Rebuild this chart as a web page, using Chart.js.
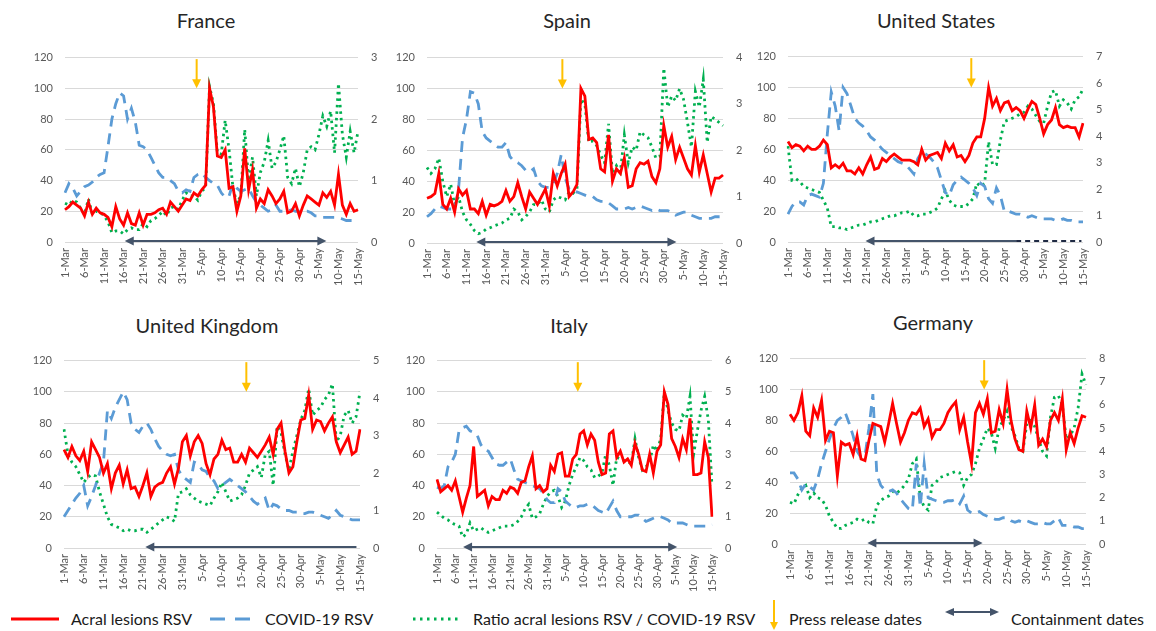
<!DOCTYPE html>
<html>
<head>
<meta charset="utf-8">
<script src="https://cdn.jsdelivr.net/npm/chart.js@4.4.1/dist/chart.umd.min.js"></script>
<style>
  body { margin: 0; background: #fff; width: 1156px; height: 631px; position: relative; overflow: hidden;
         font-family: Lato, "Liberation Sans", sans-serif; }
  canvas { position: absolute; }
  .title { position: absolute; font-size: 20px; font-weight: 400; line-height: 24px; color: #262626; white-space: nowrap;
           transform: translate(-50%, -50%); }
  .leg { position: absolute; top: 609px; font-size: 16px; line-height: 20px; color: #1a1a1a; white-space: nowrap; }
  #legsvg { position: absolute; left: 0; top: 595px; }
</style>
</head>
<body>
<svg id="legsvg" width="1156" height="36">
  <line x1="11" y1="24" x2="59" y2="24" stroke="#ff0000" stroke-width="3"/>
  <line x1="210" y1="24" x2="250" y2="24" stroke="#5b9bd5" stroke-width="3" stroke-dasharray="15,10"/>
  <line x1="413" y1="24" x2="459" y2="24" stroke="#00b050" stroke-width="3" stroke-dasharray="2.5,4.5"/>
  <line x1="774" y1="5" x2="774" y2="28" stroke="#ffc000" stroke-width="2"/>
  <polygon points="770,27 778,27 774,35" fill="#ffc000"/>
  <line x1="952" y1="17" x2="992" y2="17" stroke="#44546a" stroke-width="2"/>
  <polygon points="945,17 954,13 954,21" fill="#44546a"/>
  <polygon points="999,17 990,13 990,21" fill="#44546a"/>
</svg>
<span class="leg" style="left:71px">Acral lesions RSV</span>
<span class="leg" style="left:265px">COVID-19 RSV</span>
<span class="leg" style="left:473px">Ratio acral lesions RSV / COVID-19 RSV</span>
<span class="leg" style="left:789px">Press release dates</span>
<span class="leg" style="left:1011px">Containment dates</span>

<script>
// categories: 1-Mar .. 15-May
const months = [['Mar', 31], ['Apr', 30], ['May', 15]];
const days = [];
months.forEach(([m, n]) => { for (let d = 1; d <= n; d++) days.push(d + '-' + m); });

const leftTicks = [0, 20, 40, 60, 80, 100, 120];

// France
const franceAcral = [21,23,26,24,22,17,26,18,22,19, 18,16,10,23,15,11,19,12,11,19,
  11,18,18,19,21,22,18,26,23,20, 24,28,27,32,30,34,37,100,88,56, 55,60,35,36,20,30,61,34,47,22,
  28,25,34,30,25,28,33,19,20,25, 17,24,30,28,26,24,32,29,33,24, 44,24,18,25,20,21];
const franceCovid = [32,38,35,30,33,36,37,39,42,44, 45,62,80,90,97,95,80,87,78,63,
  62,60,55,50,45,42,42,40,38,33, 32,34,33,42,44,45,42,40,38,37, 32,29,30,38,35,33,34,35,30,26,
  24,22,20,21,24,20,20,20,21,20, 20,20,20,19,17,17,16,16,16,16, 16,15,14,14,14,14];
const franceRatio = [0.63,0.6,0.68,0.65,0.55,0.45,0.7,0.45,0.5,0.48,
  0.43,0.33,0.15,0.18,0.18,0.13,0.2,0.23,0.2,0.2, 0.3,0.25,0.35,0.38,0.43,0.5,0.43,0.55,0.58,0.53,
  0.68,0.8,0.75,0.75,0.68,0.83,0.88,2.53,2.25,1.45, 1.43,1.98,1.5,0.88,0.63,0.75,1.83,1.0,1.38,0.75,
  1.13,1.3,1.65,1.2,1.3,1.5,1.73,1.05,0.95,1.2, 0.9,1.13,1.5,1.55,1.5,1.75,2.05,1.88,2.13,1.45,
  2.58,1.75,1.38,1.8,1.45,1.8];

// Spain
const spainAcral = [29,30,32,45,25,22,29,20,35,31, 34,22,22,19,27,18,25,24,25,27,
  34,27,30,39,30,22,33,29,25,30, 35,24,45,37,45,51,30,33,38,
  100,95,67,68,65,48,46,70,40,48,45,55,36,37,48,52,51,53,43,39,48,
  76,62,69,54,62,55,48,44,63,46,57,45,33,42,42,44];
const spainCovid = [17,19,22,24,23,22,22,22,35,68, 80,98,97,90,72,68,66,64,62,62,
  65,56,53,52,50,47,46,48,40,37, 36,36,38,45,57,42,35,33,33,32, 31,30,30,28,27,27,26,24,22,22,
  22,23,22,23,24,23,22,21,22,21, 21,21,20,18,19,20,20,18,17,16, 16,16,16,17,17,17];
const spainRatio = [1.63,1.5,1.6,1.83,1.33,1.0,1.27,0.83,1.0,0.67,
  0.5,0.4,0.27,0.2,0.23,0.3,0.33,0.37,0.4,0.43, 0.5,0.53,0.73,0.67,0.5,0.57,0.67,0.83,0.83,0.93,
  0.73,0.67,0.93,1.0,0.97,0.93,1.1,1.07,1.17,
  3.1,3.0,2.17,2.2,2.1,1.9,1.73,2.57,1.5,1.67,1.53,2.33,1.73,2.07,2.0,2.4,2.33,2.27,2.07,1.83,1.87,
  3.77,2.93,3.17,3.07,3.33,3.1,2.6,2.07,3.27,2.93,3.53,2.17,2.73,2.67,2.6,2.53];

// United States
const usAcral = [65,61,63,62,59,62,60,60,62,66, 63,48,50,48,51,46,46,44,48,44,
  50,55,47,48,54,52,55,57,55,53, 53,53,52,50,60,53,56,57,58,54, 64,59,63,55,56,52,56,64,68,68,
  80,100,88,93,85,90,91,85,87,85, 80,86,91,89,80,70,76,79,87,76, 74,75,74,74,68,77];
const usCovid = [18,23,26,26,24,30,31,30,29,38, 70,97,88,72,100,96,88,80,77,75,
  72,68,66,63,60,58,56,54,52,51, 50,47,44,54,58,57,55,52,48,40, 32,30,37,40,42,40,38,35,30,38,
  36,28,25,35,30,20,20,19,18,18, 17,16,17,16,15,15,15,15,14,14, 15,14,14,13,13,13];
const usRatio = [3.62,2.33,2.39,2.28,2.1,2.04,1.98,1.93,1.87,1.58,
  1.28,0.58,0.58,0.53,0.53,0.47,0.53,0.58,0.64,0.64, 0.7,0.76,0.76,0.82,0.88,0.93,0.99,0.99,1.05,1.11,
  1.11,1.17,0.99,0.99,1.05,1.05,1.11,1.17,1.28,1.63, 1.93,1.58,1.4,1.34,1.34,1.34,1.46,1.63,2.22,2.1,
  2.22,3.79,2.92,2.92,3.85,4.55,4.61,4.67,4.73,4.84, 4.9,5.13,5.02,4.78,4.55,4.49,5.13,5.66,5.72,5.13,
  5.37,5.25,5.02,5.37,5.48,5.78];

// United Kingdom
const ukAcral = [63,58,65,59,56,62,49,68,63,58, 48,54,38,48,53,41,50,38,39,33,
  40,48,33,39,41,42,48,52,41,51, 68,72,59,68,72,67,54,47,57,60, 69,63,64,55,55,60,55,64,61,58,
  62,66,71,60,76,80,62,48,52,68, 82,83,98,76,82,81,75,80,84,68, 61,66,71,60,62,76];
const ukCovid = [20,24,28,32,35,40,27,33,40,48, 55,88,83,90,95,100,95,80,76,74,
  78,80,76,70,65,62,60,59,60,50, 46,44,42,55,54,50,49,45,43,38, 40,42,44,42,40,38,36,33,30,28,
  30,32,24,28,27,25,24,24,23,23, 22,22,23,23,22,21,20,19,21,24, 21,20,19,18,18,18];
const ukRatio = [3.17,2.5,2.29,2.17,1.96,1.75,1.88,1.96,1.92,1.5,
  1.17,0.83,0.63,0.58,0.54,0.46,0.5,0.46,0.46,0.5, 0.5,0.42,0.5,0.58,0.67,0.75,0.83,0.79,0.71,1.46,
  1.5,1.58,1.42,1.33,1.25,1.21,1.17,1.13,1.33,1.5, 1.75,1.5,1.25,1.29,1.33,1.42,1.67,2.0,2.08,2.17,
  1.88,2.5,2.58,1.67,3.25,3.08,2.5,2.08,2.58,3.0, 3.42,3.67,4.25,3.54,3.67,3.75,3.96,4.08,4.38,2.83,
  3.0,3.54,3.67,3.33,3.5,4.17];

// Italy
const italyAcral = [44,36,38,40,37,43,33,23,32,40, 65,33,35,37,27,33,31,31,37,35,
  39,38,35,42,43,52,59,38,40,36, 38,53,49,60,61,46,46,57,60,73, 75,66,73,69,55,47,48,73,75,58,
  62,55,57,53,67,60,50,49,60,48, 62,66,100,92,70,65,58,70,63,83, 47,47,48,68,58,20];
const italyCovid = [39,38,40,52,55,60,75,77,78,75, 74,72,66,63,62,58,54,53,53,55,
  57,50,44,43,42,41,40,39,38,35, 31,29,29,38,36,30,28,26,26,27, 27,28,28,26,24,23,22,26,30,24,
  20,20,20,20,21,21,19,17,18,19, 20,20,19,18,16,16,16,16,15,14, 14,14,14,14,14,15];
const italyRatio = [1.15,1.05,0.95,0.9,0.8,0.75,0.7,0.35,0.45,0.8,
  0.55,0.6,0.65,0.55,0.5,0.55,0.6,0.65,0.7,0.7, 0.7,0.75,0.85,1.0,1.25,1.4,0.95,1.0,1.1,1.4,
  1.65,1.8,1.85,1.65,1.3,1.5,2.0,2.35,2.6,2.9, 2.8,2.6,2.5,2.25,2.3,2.4,3.0,2.65,2.0,2.9,
  2.85,2.8,2.75,2.7,3.5,2.9,2.5,2.6,2.75,3.3, 3.1,3.5,5.0,4.4,4.0,3.8,3.75,4.25,4.15,4.85,
  3.0,3.75,4.4,4.85,4.1,2.0];

// Germany
const germanyAcral = [84,80,85,96,73,70,88,82,93,67, 73,72,44,66,64,65,58,70,55,54,
  67,78,77,76,66,78,91,78,66,72, 80,85,84,88,76,81,69,74,74,78, 85,89,92,74,82,66,52,85,91,84,
  94,72,73,87,78,100,80,68,61,60, 86,75,90,64,68,63,80,85,80,94, 61,72,65,75,83,82];
const germanyCovid = [46,46,42,35,39,37,35,42,52,60, 68,75,80,82,85,78,70,60,56,57,
  75,97,45,38,35,34,35,33,29,26, 23,22,52,24,52,30,29,28,27,27, 28,28,29,26,31,22,20,20,21,19,
  18,17,16,16,17,17,15,14,15,14, 15,14,13,13,14,13,13,15,17,12, 12,12,11,11,10,10];
const germanyRatio = [1.8,1.73,2.13,2.4,2.53,2.0,2.2,2.0,1.93,1.67,
  1.2,0.93,0.67,0.67,0.8,0.87,0.93,1.07,1.0,1.07, 0.93,0.87,1.67,1.87,2.0,2.07,2.27,2.2,2.33,2.53,
  2.8,3.47,3.67,2.0,1.6,1.47,2.53,2.67,2.87,2.93, 3.0,3.07,3.13,3.07,2.53,2.87,3.0,3.47,4.13,4.53,
  5.0,4.8,4.13,5.0,5.33,5.73,5.07,4.67,4.13,4.0, 5.2,5.33,5.07,4.53,4.0,3.8,5.47,6.33,6.4,6.0,
  4.53,4.67,5.0,5.87,7.33,6.87];

// panel layout: plot-area edges in page pixels, marker positions as day indices
const panels = [
  { title: 'France', titleAt: [206, 20], acral: franceAcral, covid: franceCovid, ratio: franceRatio, ratioMax: 3,
    box: { L: 65, R: 358, T: 50, B: 242 }, press: 33.7, contain: { from: 15.3, to: 66.9, both: true } },
  { title: 'Spain', titleAt: [567, 20], acral: spainAcral, covid: spainCovid, ratio: spainRatio, ratioMax: 4,
    box: { L: 427, R: 723, T: 50, B: 243 }, press: 34.3, contain: { from: 12.5, to: 63.2, both: true } },
  { title: 'United States', titleAt: [936, 20], acral: usAcral, covid: usCovid, ratio: usRatio, ratioMax: 7,
    box: { L: 788, R: 1083, T: 49, B: 242 }, press: 46.6, contain: { from: 19.7, to: 58, both: false, dashTo: 74.6 } },
  { title: 'United Kingdom', titleAt: [207, 325], acral: ukAcral, covid: ukCovid, ratio: ukRatio, ratioMax: 5,
    box: { L: 64, R: 360, T: 353, B: 548 }, press: 46.2, contain: { from: 20.6, to: 74.1, both: false } },
  { title: 'Italy', titleAt: [569, 325], acral: italyAcral, covid: italyCovid, ratio: italyRatio, ratioMax: 6,
    box: { L: 437, R: 712, T: 353, B: 548 }, press: 38.4, contain: { from: 7.1, to: 65.5, both: true } },
  { title: 'Germany', titleAt: [933, 322], acral: germanyAcral, covid: germanyCovid, ratio: germanyRatio, ratioMax: 8,
    box: { L: 790, R: 1086, T: 351, B: 544 }, press: 49.2, contain: { from: 19.6, to: 48.8, both: true } }
];

const LEFT_W = 40, RIGHT_W = 28, PAD_TOP = 12, X_H = 52;
const tickFont = { family: 'Lato', size: 11 };

function head(ctx, x, y, dir, size) {
  // filled triangle pointing in dir (radians)
  ctx.beginPath();
  ctx.moveTo(x, y);
  ctx.lineTo(x - size * Math.cos(dir) + size * 0.5 * Math.sin(dir), y - size * Math.sin(dir) - size * 0.5 * Math.cos(dir));
  ctx.lineTo(x - size * Math.cos(dir) - size * 0.5 * Math.sin(dir), y - size * Math.sin(dir) + size * 0.5 * Math.cos(dir));
  ctx.closePath();
  ctx.fill();
}

const arrowPlugin = {
  id: 'arrows',
  afterDatasetsDraw(chart, args, opts) {
    const ctx = chart.ctx, x = chart.scales.x, y = chart.scales.y;
    ctx.save();
    // press release
    const px = x.getPixelForValue(opts.press);
    const yTop = y.getPixelForValue(119), yBot = y.getPixelForValue(100);
    ctx.strokeStyle = '#ffc000'; ctx.fillStyle = '#ffc000'; ctx.lineWidth = 2;
    ctx.beginPath(); ctx.moveTo(px, yTop); ctx.lineTo(px, yBot - 6); ctx.stroke();
    head(ctx, px, yBot, Math.PI / 2, 9);
    // containment
    const c = opts.contain;
    const cy = y.getPixelForValue(0.6);
    const x0 = x.getPixelForValue(c.from), x1 = x.getPixelForValue(c.to);
    ctx.strokeStyle = '#44546a'; ctx.fillStyle = '#44546a'; ctx.lineWidth = 2;
    ctx.beginPath(); ctx.moveTo(x0 + 6, cy); ctx.lineTo(c.both ? x1 - 6 : x1, cy); ctx.stroke();
    head(ctx, x0, cy, Math.PI, 9);
    if (c.both) head(ctx, x1, cy, 0, 9);
    if (c.dashTo !== undefined) {
      ctx.strokeStyle = '#1f2a44';
      ctx.setLineDash([5, 4]);
      ctx.beginPath(); ctx.moveTo(x1, cy); ctx.lineTo(x.getPixelForValue(c.dashTo), cy); ctx.stroke();
    }
    ctx.restore();
  }
};

panels.forEach(p => {
  const t = document.createElement('div');
  t.className = 'title';
  t.textContent = p.title;
  t.style.left = p.titleAt[0] + 'px';
  t.style.top = p.titleAt[1] + 'px';
  document.body.appendChild(t);

  const b = p.box;
  const cv = document.createElement('canvas');
  cv.width = (b.R - b.L) + LEFT_W + RIGHT_W;
  cv.height = (b.B - b.T) + PAD_TOP + X_H;
  cv.style.left = (b.L - LEFT_W) + 'px';
  cv.style.top = (b.T - PAD_TOP) + 'px';
  document.body.appendChild(cv);

  new Chart(cv.getContext('2d'), {
    type: 'line',
    data: {
      labels: days,
      datasets: [
        { label: 'Acral lesions RSV', data: p.acral, yAxisID: 'y', borderColor: '#ff0000', borderWidth: 2.8 },
        { label: 'COVID-19 RSV', data: p.covid, yAxisID: 'y', borderColor: '#5b9bd5', borderWidth: 2.8,
          borderDash: [11, 7] },
        { label: 'Ratio acral lesions RSV / COVID-19 RSV', data: p.ratio, yAxisID: 'y1', borderColor: '#00b050',
          borderWidth: 2.8, borderDash: [2.5, 4] }
      ]
    },
    options: {
      responsive: false,
      animation: false,
      layout: { padding: { top: PAD_TOP, left: 0, right: 0, bottom: 0 } },
      elements: { point: { radius: 0 }, line: { tension: 0, fill: false } },
      plugins: {
        legend: { display: false },
        tooltip: { enabled: false },
        arrows: { press: p.press, contain: p.contain }
      },
      scales: {
        x: {
          offset: false,
          grid: { display: false, drawTicks: false },
          border: { display: false },
          ticks: {
            autoSkip: false, minRotation: 90, maxRotation: 90, padding: 6,
            color: '#595959', font: tickFont,
            callback: function (v, i) { return i % 5 === 0 ? this.getLabelForValue(v) : ''; }
          },
          afterFit: s => { s.height = X_H; }
        },
        y: {
          position: 'left', min: 0, max: 120,
          afterBuildTicks: s => { s.ticks = leftTicks.map(v => ({ value: v })); },
          grid: { color: '#d9d9d9', lineWidth: 1, drawTicks: false },
          border: { display: false },
          ticks: { padding: 12, color: '#595959', font: tickFont },
          afterFit: s => { s.width = LEFT_W; }
        },
        y1: {
          position: 'right', min: 0, max: p.ratioMax,
          ticks: { stepSize: 1, padding: 13, color: '#595959', font: tickFont },
          grid: { display: false, drawTicks: false },
          border: { display: false },
          afterFit: s => { s.width = RIGHT_W; }
        }
      }
    },
    plugins: [arrowPlugin]
  });
});
</script>
</body>
</html>
